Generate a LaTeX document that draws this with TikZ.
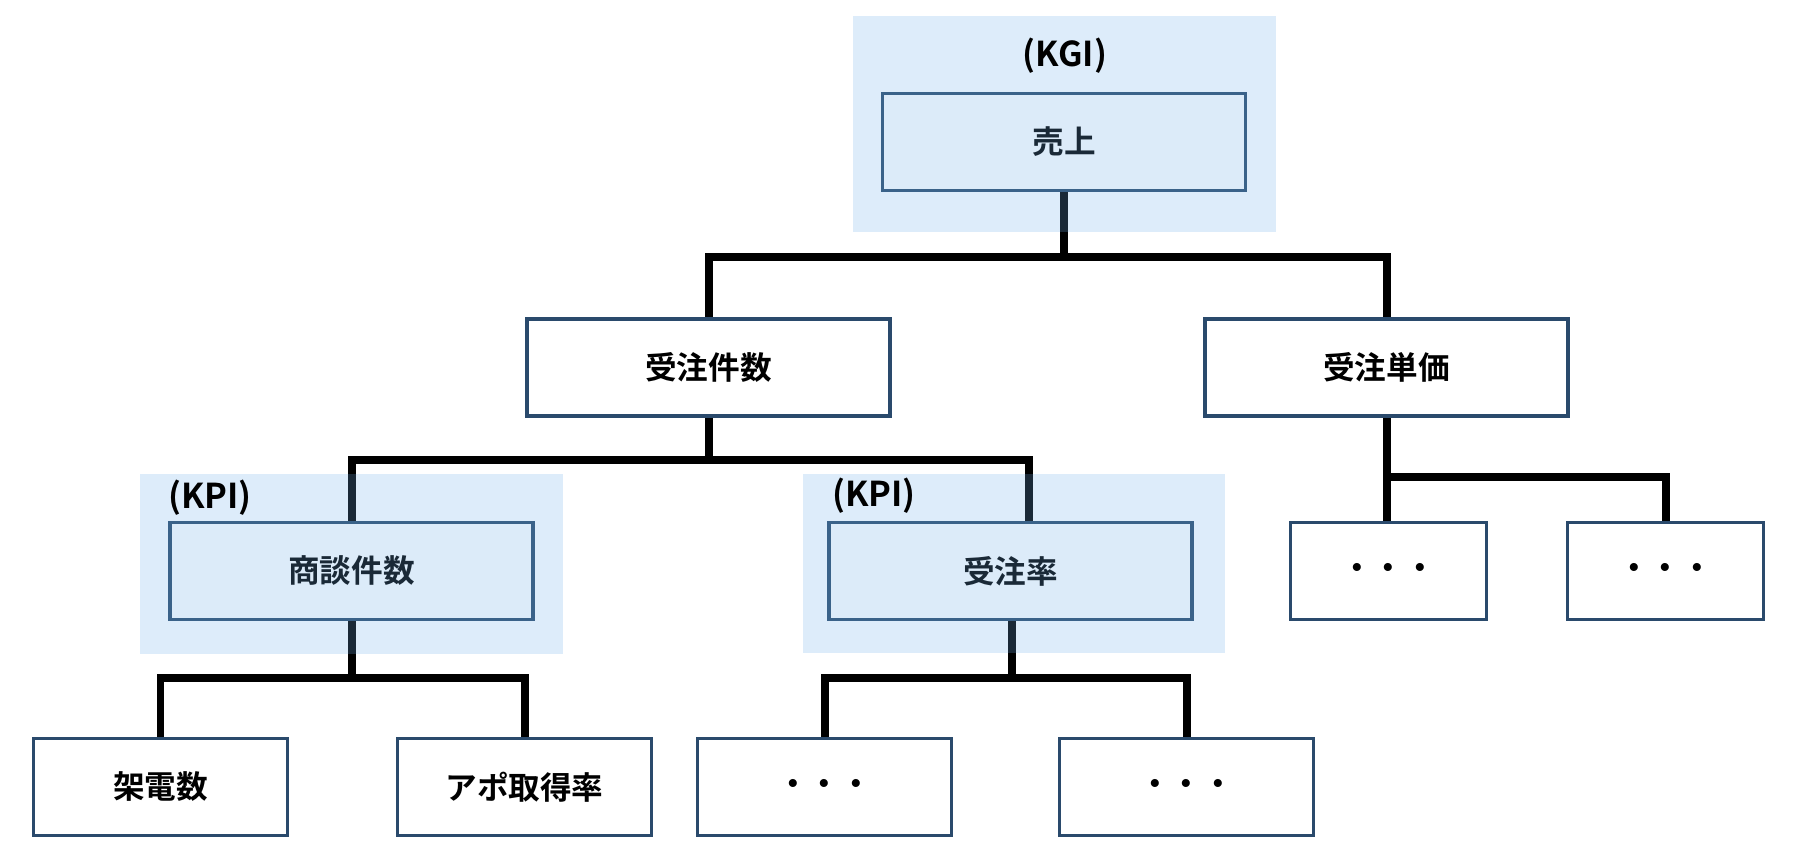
\documentclass[tikz,border=0pt]{standalone}
\usepackage{fontspec}
\setmainfont{Noto Sans CJK JP}[BoldFont={Noto Sans CJK JP Bold}]
\usepackage{xcolor}
\usepackage{tikz}
\usetikzlibrary{positioning, calc, backgrounds}

\definecolor{boxline}{RGB}{42,74,108}
\definecolor{hiblue}{RGB}{112,175,233}

\begin{document}
\begin{tikzpicture}[x=0.02cm, y=-0.02cm,
    box/.style={draw=boxline, line width=2.1pt, fill=white, minimum height=1.94cm,
      inner sep=0pt, font=\bfseries\fontsize{18}{20}\selectfont},
    wide/.style={box, minimum width=7.26cm},
    mid/.style={box, minimum width=5.08cm},
    narrow/.style={box, minimum width=3.92cm},
    conn/.style={line width=4.55pt, line join=miter},
    hilite/.style={fill=hiblue, fill opacity=0.24},
    tag/.style={inner sep=0pt, font=\bfseries\fontsize{19.5}{22}\selectfont}]
      \useasboundingbox (0,0) rectangle (1796,860);

      % Boxes
      \node[wide] (sales) at (1064,142) {売上};

      \node[wide] (orders) at (708.5,367.5) {受注件数};
      \node[wide] (price) at (1386.5,367.5) {受注単価};

      \node[wide] (meetings) at (351.5,571) {商談件数};
      \node[wide] (rate) at (1010.5,571) {受注率};
      \node[narrow] (etcA) at (1388.5,571) {・・・};
      \node[narrow] (etcB) at (1665.5,571) {・・・};

      \node[mid] (calls) at (160.5,787) {架電数};
      \node[mid] (appo) at (524.5,787) {アポ取得率};
      \node[mid] (etcC) at (824.5,787) {・・・};
      \node[mid] (etcD) at (1186.5,787) {・・・};

      % Junctions
      \coordinate (j1) at (1064,257);
      \coordinate (j2) at (708.5,460);
      \coordinate (j3) at (351.5,678);
      \coordinate (j4) at (1012,678);
      \coordinate (j5) at (1386.5,477);

      % Connectors
      \begin{scope}[on background layer]
        \draw[conn] (sales.south) -- (j1);
        \draw[conn] (orders.north) |- (j1) -| (price.north);

        \draw[conn] (orders.south) -- (j2);
        \draw[conn] (meetings.north) |- (j2) -| ([xshift=0.37cm]rate.north);

        \draw[conn] (price.south) -- (price.south |- etcA.north);
        \draw[conn] (j5) -| (etcB.north);

        \draw[conn] (meetings.south) -- (j3);
        \draw[conn] (calls.north) |- (j3) -| (appo.north);

        \draw[conn] (rate.south -| j4) -- (j4);
        \draw[conn] (etcC.north) |- (j4) -| (etcD.north);
      \end{scope}

      % Highlights
      \fill[hilite] (853,16) rectangle (1276,232);
      \fill[hilite] (140,474) rectangle (563,654);
      \fill[hilite] (803,474) rectangle (1225,653);

      \node[tag] (kgi) at (1065,56) {(KGI)};
      \node[tag, anchor=west] (kpiA) at (168,498) {(KPI)};
      \node[tag, anchor=west] (kpiB) at (832,496) {(KPI)};
    \end{tikzpicture}
\end{document}
